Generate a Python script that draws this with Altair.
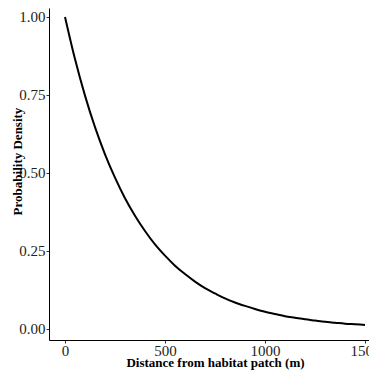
import altair as alt
import pandas as pd

# Values (distance in m, probability density)
distance = [0, 50, 100, 150, 200, 250, 300, 350, 400, 450, 500, 550, 600, 650, 700,
            750, 800, 850, 900, 950, 1000, 1050, 1100, 1150, 1200, 1250, 1300, 1350,
            1400, 1450, 1500]
density = [1.000, 0.865, 0.748, 0.647, 0.560, 0.485, 0.419, 0.363, 0.314, 0.271, 0.235,
           0.203, 0.176, 0.152, 0.131, 0.114, 0.098, 0.085, 0.074, 0.064, 0.055, 0.048,
           0.041, 0.036, 0.031, 0.027, 0.023, 0.020, 0.017, 0.015, 0.013]
x_ticks = [0, 500, 1000, 1500]
y_ticks = [0.00, 0.25, 0.50, 0.75, 1.00]

df = pd.DataFrame({"distance": distance, "density": density})

FONT = "Liberation Serif"

chart = alt.Chart(df).mark_line(
    color="black", strokeWidth=2, interpolate="monotone", clip=True
).encode(
    x=alt.X(
        "distance:Q",
        scale=alt.Scale(domain=[-80, 1520], nice=False, zero=False),
        axis=alt.Axis(
            values=x_ticks, format="d", title="Distance from habitat patch (m)",
            titleX=166, titleY=26, titleBaseline="alphabetic", titleAnchor="middle",
            titleAlign="center",
        ),
    ),
    y=alt.Y(
        "density:Q",
        scale=alt.Scale(domain=[-0.0353, 1.0288], nice=False, zero=False),
        axis=alt.Axis(
            values=y_ticks, format=".2f", title="Probability Density",
            titleX=-32, titleY=153, titleAngle=-90, titleAlign="center",
            titleBaseline="middle",
        ),
    ),
).properties(
    width=320, height=332,
    padding={"left": 41, "top": 0, "right": 0, "bottom": 30},
    autosize=alt.AutoSizeParams(type="none"),
).configure_view(
    stroke=None
).configure_axis(
    grid=False,
    domainColor="black",
    domainWidth=1,
    tickColor="#333333",
    tickSize=3,
    tickWidth=1,
    labelFont=FONT,
    labelFontSize=15,
    labelColor="#222222",
    labelPadding=1,
    titleFont=FONT,
    titleFontSize=13,
    titleFontWeight="bold",
    titleColor="black",
).configure_axisX(
    labelPadding=0,
    labelOverlap=False,
    labelBound=False,
)

chart.save("out.html", embed_options={"renderer": "svg", "actions": False})
